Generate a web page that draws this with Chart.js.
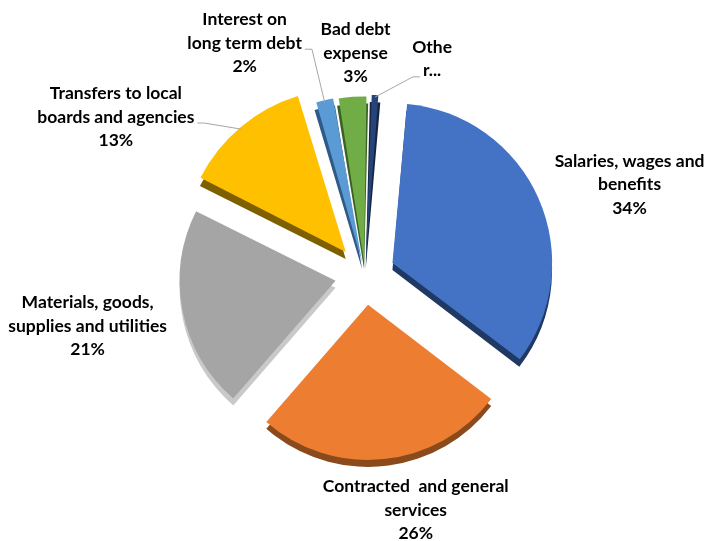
<!DOCTYPE html>
<html>
<head>
<meta charset="utf-8">
<script src="https://cdn.jsdelivr.net/npm/chart.js@4"></script>
<style>
  html, body { margin: 0; padding: 0; background: #ffffff; }
  #wrap { width: 707px; height: 541px; position: relative; }
</style>
</head>
<body>
<div id="wrap"><canvas id="chart" width="707" height="541"></canvas></div>
<script>
// Expense categories, clockwise from the top
const categories = [
  ['Salaries, wages and', 'benefits'],
  ['Contracted  and general', 'services'],
  ['Materials, goods,', 'supplies and utilities'],
  ['Transfers to local', 'boards and agencies'],
  ['Interest on', 'long term debt'],
  ['Bad debt', 'expense'],
  ['Othe', 'r...']
];
// Share of total expenses (%)
const shares = [34, 26, 21, 13, 2, 3, 1];
// Percentage text shown under each label (the last one is truncated)
const shareLabels = ['34%', '26%', '21%', '13%', '2%', '3%', null];

const topColors   = ['#4472C4', '#ED7D31', '#A5A5A5', '#FFC000', '#5B9BD5', '#70AD47', '#264478'];
const sideColors  = ['#1F3864', '#8A4A1C', '#C9C9C9', '#7F6000', '#2E5A87', '#3B6126', '#142441'];
// Chart.js moves an exploded slice by a quarter of its "offset" option
const sliceOffsets = [120, 120, 120, 120, 52, 52, 52];

// Label placement: shift from the outer middle of each slice to the centre of its text block
const labelShift = [[91, -14], [32, 51], [-95, 15], [-125, -10], [-80, -57], [3, -44], [57, -36]];
// Leader lines: which text line they attach to and from which side
const leaders = [null, null, null, {line: 1, side: 'right'}, {line: 1, side: 'right'}, null, {line: 1, side: 'left'}];

const FONT = 'bold 17.5px Lato, "Open Sans", sans-serif';
const LINE_H = 23.5;
const DEPTH = 7;

// Same geometry as ArcElement.draw uses for an exploded slice
function arcGeom(arc) {
  const p = arc.getProps(['x', 'y', 'startAngle', 'endAngle', 'outerRadius', 'circumference']);
  const mid = (p.startAngle + p.endAngle) / 2;
  const d = (arc.options.offset || 0) / 4;
  const fix = 1 - Math.sin(Math.min(Math.PI, p.circumference || 0));
  return {
    cx: p.x + Math.cos(mid) * d,
    cy: p.y + Math.sin(mid) * d,
    r: p.outerRadius + d * fix,
    startAngle: p.startAngle,
    endAngle: p.endAngle,
    mid
  };
}

// Side walls of the tilted pie: each slice drawn lower and darker underneath
const depthPlugin = {
  id: 'depth',
  beforeDatasetsDraw(chart) {
    const ctx = chart.ctx;
    chart.getDatasetMeta(0).data.forEach((arc, i) => {
      const g = arcGeom(arc);
      ctx.save();
      ctx.fillStyle = sideColors[i];
      ctx.beginPath();
      ctx.moveTo(g.cx, g.cy + DEPTH);
      ctx.arc(g.cx, g.cy + DEPTH, g.r, g.startAngle, g.endAngle);
      ctx.closePath();
      ctx.fill();
      ctx.restore();
    });
  }
};

// Category + percentage labels with leader lines
const labelPlugin = {
  id: 'sliceLabels',
  afterDatasetsDraw(chart) {
    const ctx = chart.ctx;
    ctx.save();
    ctx.font = FONT;
    ctx.textAlign = 'center';
    ctx.textBaseline = 'middle';
    chart.getDatasetMeta(0).data.forEach((arc, i) => {
      const g = arcGeom(arc);
      const ox = g.cx + Math.cos(g.mid) * g.r;
      const oy = g.cy + Math.sin(g.mid) * g.r;
      const lines = categories[i].slice();
      if (shareLabels[i]) lines.push(shareLabels[i]);
      const lx = ox + labelShift[i][0];
      const ly = oy + labelShift[i][1];
      const top = ly - (lines.length - 1) * LINE_H / 2;
      ctx.fillStyle = '#000000';
      lines.forEach((t, k) => ctx.fillText(t, lx, top + k * LINE_H));
      const ld = leaders[i];
      if (ld) {
        const w = ctx.measureText(lines[ld.line]).width;
        const yy = top + ld.line * LINE_H + 6;
        const dir = ld.side === 'right' ? 1 : -1;
        const x0 = lx + dir * (w / 2 + 3);
        const x1 = x0 + dir * 7;
        ctx.strokeStyle = '#A6A6A6';
        ctx.lineWidth = 1;
        ctx.beginPath();
        ctx.moveTo(x0, yy);
        ctx.lineTo(x1, yy);
        ctx.lineTo(ox, oy + 2);
        ctx.stroke();
      }
    });
    ctx.restore();
  }
};

new Chart(document.getElementById('chart'), {
  type: 'pie',
  data: {
    labels: categories.map(c => c.join(' ')),
    datasets: [{
      data: shares,
      backgroundColor: topColors,
      borderWidth: 0,
      offset: sliceOffsets
    }]
  },
  options: {
    responsive: false,
    animation: false,
    rotation: 5,
    radius: 155,
    layout: {padding: {left: 23, right: 0, top: 9, bottom: 0}},
    plugins: {legend: {display: false}, tooltip: {enabled: false}}
  },
  plugins: [depthPlugin, labelPlugin]
});
</script>
</body>
</html>
